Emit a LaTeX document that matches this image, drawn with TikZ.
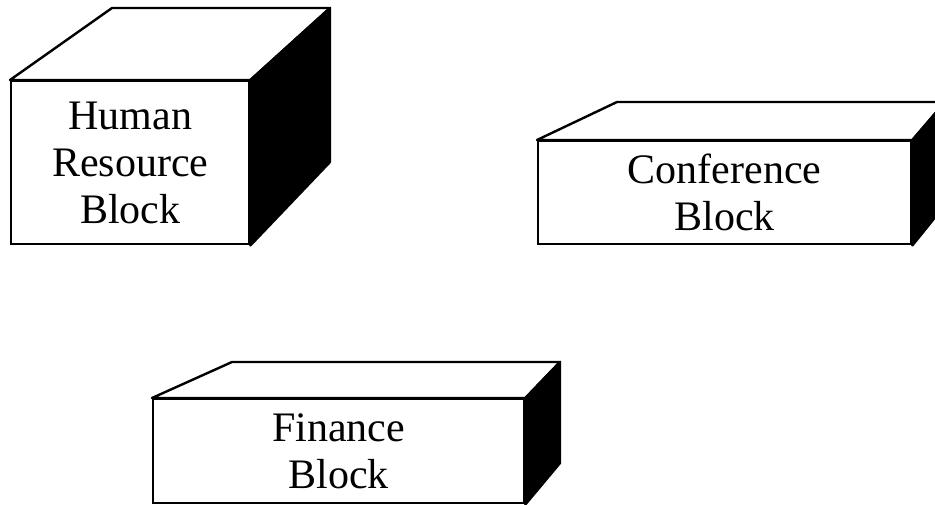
\documentclass[tikz,border=0pt]{standalone}
\usepackage{fontspec}
\setmainfont{Liberation Serif}

\begin{document}
\begin{tikzpicture}[x=1pt, y=-1pt,
  front/.style = {draw, line width=2.4pt, fill=white, align=center,
    inner sep=0pt, anchor=north west,
    font=\fontsize{42}{47}\selectfont},
  lid/.style = {draw, line width=2.4pt, fill=white, line join=round},
  shade/.style = {draw, line width=2.4pt, fill=black, line join=round}]
  \useasboundingbox (0,0) rectangle (935,504);
  % human resource block
  \node[front, minimum width=238pt, minimum height=163pt] (hr) at (10,80)
    {Human\\Resource\\Block};
  \draw[lid] (hr.north west) -- (112,8) -- (330,8) -- (hr.north east) -- cycle;
  \draw[shade] (hr.north east) -- (330,8) -- (330,162) -- (hr.south east) -- cycle;
  % conference block
  \node[front, minimum width=373pt, minimum height=103pt] (conf) at (537,140)
    {Conference\\Block};
  \draw[lid] (conf.north west) -- (617,102) -- (945,102) -- (conf.north east) -- cycle;
  \draw[shade] (conf.north east) -- (945,102) -- (945,205) -- (conf.south east) -- cycle;
  % finance block
  \node[front, minimum width=371pt, minimum height=104pt] (fin) at (152,398)
    {Finance\\Block};
  \draw[lid] (fin.north west) -- (232,362) -- (560,362) -- (fin.north east) -- cycle;
  \draw[shade] (fin.north east) -- (560,362) -- (560,463) -- (fin.south east) -- cycle;
\end{tikzpicture}
\end{document}
